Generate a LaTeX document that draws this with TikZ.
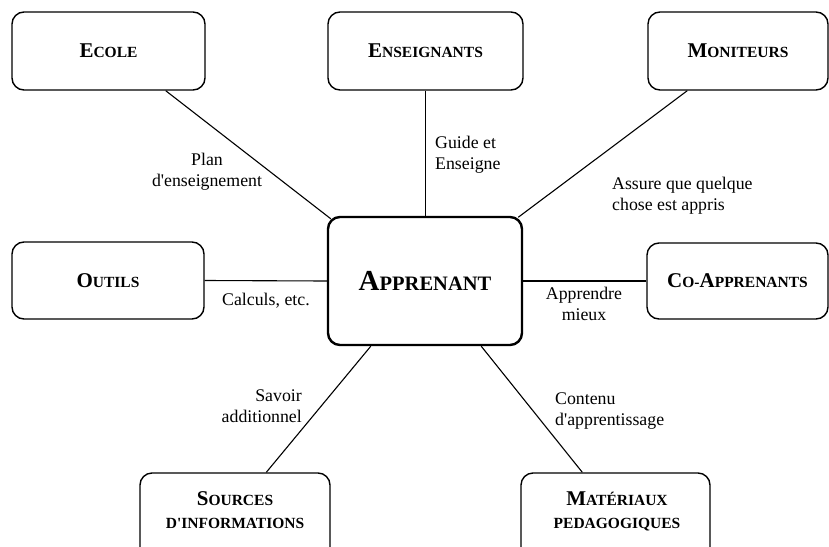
\documentclass[tikz,border=0pt]{standalone}
\usepackage{fontspec}
\setmainfont{Liberation Serif}
\newcommand{\bigsc}[2]{{\fontsize{21}{21}\selectfont #1}{\fontsize{15.5}{15.5}\selectfont #2}}
\newcommand{\hugesc}[2]{{\fontsize{29}{29}\selectfont #1}{\fontsize{20.5}{20.5}\selectfont #2}}
\newcommand{\smsc}[1]{{\fontsize{15.5}{15.5}\selectfont #1}}
\begin{document}
\begin{tikzpicture}[x=1pt,y=-1pt,
  box/.style={draw, line width=1.4pt, rounded corners=12pt, inner sep=0pt, fill=white, font=\bfseries},
  hub/.style={box, line width=2.4pt},
  conn/.style={line width=1.1pt},
  lbl/.style={inner sep=0pt, font=\fontsize{17.8}{20.5}\selectfont},
  boxtxt/.style={inner sep=0pt, align=center, font=\bfseries\fontsize{15.5}{23}\selectfont}
]
\fill[white] (0,0) rectangle (829,546);
\useasboundingbox (0,0) rectangle (829,546);
\clip (0,0) rectangle (829,546);

% boxes
\node[box, minimum width=193pt, minimum height=78pt] (ecole) at (108.5,51) {\bigsc{E}{COLE}};
\node[box, minimum width=195pt, minimum height=78pt] (ens) at (425.5,51) {\bigsc{E}{NSEIGNANTS}};
\node[box, minimum width=180pt, minimum height=78pt] (mon) at (738,51) {\bigsc{M}{ONITEURS}};
\node[box, minimum width=192pt, minimum height=77pt] (outils) at (108,280.5) {\bigsc{O}{UTILS}};
\node[hub, minimum width=194pt, minimum height=128pt] (app) at (425,281) {\hugesc{A}{PPRENANT}};
\node[box, minimum width=181pt, minimum height=76pt] (co) at (737.5,281) {\bigsc{C}{O-}\bigsc{A}{PPRENANTS}};
\node[box, minimum width=190pt, minimum height=87pt] (sources) at (235,516.5) {};
\node[box, minimum width=189pt, minimum height=87pt] (mat) at (615.5,516.5) {};
\node[boxtxt, anchor=north] (sourcestxt) at (235,491) {\bigsc{S}{OURCES}\\\smsc{D\textquotesingle INFORMATIONS}};
\node[boxtxt, anchor=north] (mattxt) at (617,492) {\bigsc{M}{ATÉRIAUX}\\\smsc{PEDAGOGIQUES}};

% connectors
\draw[conn] ([xshift=-40pt]ecole.south east) -- ([shift={(4pt,-3pt)}]app.north west);
\draw[conn] (ens.south) -- (ens.south |- app.north);
\draw[conn] ([xshift=40pt]mon.south west) -- ([shift={(-5pt,-1.5pt)}]app.north east);
\draw[conn] (outils.east) -- (app.west);
\draw[conn] (app.east) -- (co.west);
\draw[conn] ([xshift=44pt]app.south west) -- ([xshift=127pt]sources.north west);
\draw[conn] ([xshift=-42pt]app.south east) -- ([xshift=62pt]mat.north west);

% connector labels
\node[lbl, anchor=north, align=center] (lplan) at (207,153) {Plan\\d\textquotesingle enseignement};
\node[lbl, anchor=north west, align=left] (lguide) at (435,136) {Guide et\\Enseigne};
\node[lbl, anchor=north west, align=left] (lassure) at (612,177) {Assure que quelque\\chose est appris};
\node[lbl, anchor=north west] (lcalc) at (222,293) {Calculs, etc.};
\node[lbl, anchor=north, align=center] (lappr) at (584,287) {Apprendre\\mieux};
\node[lbl, anchor=north east, align=right] (lsavoir) at (302,390) {Savoir\\additionnel};
\node[lbl, anchor=north west, align=left] (lcont) at (555,393) {Contenu\\d\textquotesingle apprentissage};
\end{tikzpicture}
\end{document}
